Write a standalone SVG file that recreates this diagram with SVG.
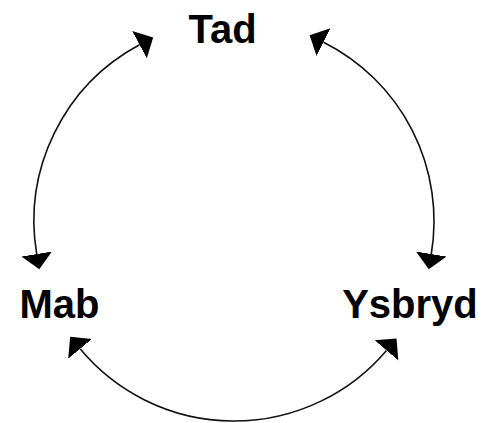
<svg xmlns="http://www.w3.org/2000/svg" width="494" height="423" viewBox="0 0 494 423">
  <style>
    .label { font-family: "Liberation Sans", Arial, Helvetica, sans-serif; font-weight: bold; font-size: 40px; fill: #000; text-anchor: middle; }
    .conn { fill: none; stroke: #111; stroke-width: 1.6; marker-start: url(#head); marker-end: url(#head); }
  </style>
  <defs>
    <marker id="head" markerUnits="userSpaceOnUse" markerWidth="20" markerHeight="36" viewBox="0 -18 20 36" refX="0" refY="0" orient="auto-start-reverse">
      <path d="M0,-15.5 L15.5,0 L0,15.5 Z" fill="#000"/>
    </marker>
  </defs>
  <rect width="494" height="423" fill="#fff"/>
  <g id="connectors">
    <path class="conn" d="M 36.7 254 A 200 200 0 0 1 139.5 44.7"/>
    <path class="conn" d="M 323.5 42.2 A 200 200 0 0 1 431.3 254"/>
    <path class="conn" d="M 386.5 350.4 A 200 200 0 0 1 80.1 348.8"/>
  </g>
  <g id="node-tad"><text class="label" x="222.5" y="43">Tad</text></g>
  <g id="node-mab"><text class="label" x="59.5" y="317.5">Mab</text></g>
  <g id="node-ysbryd"><text class="label" x="410" y="317.5">Ysbryd</text></g>
</svg>
